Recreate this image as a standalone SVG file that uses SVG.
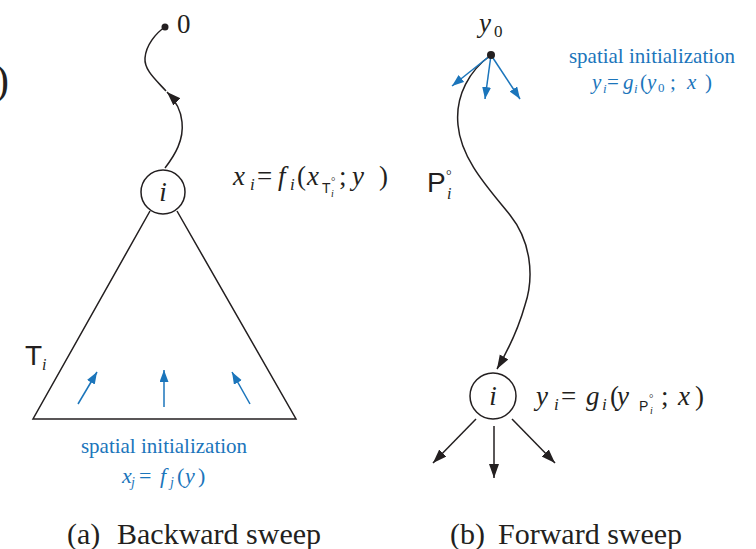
<svg xmlns="http://www.w3.org/2000/svg" width="756" height="549" viewBox="0 0 756 549">
<defs>
<marker id="ah" markerUnits="userSpaceOnUse" markerWidth="15" markerHeight="11" refX="14" refY="5" orient="auto"><path d="M0,0 L14,5 L0,10 z" fill="#231f20"/></marker>
<marker id="ahb" markerUnits="userSpaceOnUse" markerWidth="13" markerHeight="10" refX="12" refY="4.5" orient="auto"><path d="M0,0 L12,4.5 L0,9 z" fill="#1b75bb"/></marker>
<style>
.k{stroke:#231f20;stroke-width:1.5;fill:none}
.b{stroke:#1b75bb;stroke-width:1.5;fill:none}
.it{font-style:italic}
.sf{font-family:Liberation Serif, DejaVu Serif, serif}
.ss{font-family:Liberation Sans, DejaVu Sans, sans-serif}
</style>
</defs>
<rect width="756" height="549" fill="#fff"/>
<text class="sf" fill="#231f20" x="-5" y="94" font-size="42">)</text>

<g id="connectors">
<path class="k" d="M165,168 C175,155 184,140 182,122 C181,110 175,100 167,92" marker-end="url(#ah)"/>
<path class="k" d="M166,91 C156,80 144,70 145,58 C146,45 156,33 165,27"/>
<path class="k" d="M491,55 C470,70 455,95 458,125 C461,160 490,190 510,215 C530,240 535,275 525,305 C518,330 507,352 497,369" marker-end="url(#ah)"/>
<line class="k" x1="476" y1="419" x2="433" y2="463" marker-end="url(#ah)"/>
<line class="k" x1="494" y1="426" x2="494" y2="478" marker-end="url(#ah)"/>
<line class="k" x1="512" y1="419" x2="555" y2="463" marker-end="url(#ah)"/>
<line class="b" x1="78" y1="404" x2="97" y2="372" marker-end="url(#ahb)"/>
<line class="b" x1="164" y1="407" x2="164" y2="370" marker-end="url(#ahb)"/>
<line class="b" x1="250" y1="404" x2="232" y2="372" marker-end="url(#ahb)"/>
<line class="b" x1="491" y1="55" x2="452" y2="86" marker-end="url(#ahb)"/>
<line class="b" x1="491" y1="55" x2="485" y2="99" marker-end="url(#ahb)"/>
<line class="b" x1="491" y1="55" x2="520" y2="99" marker-end="url(#ahb)"/>
</g>

<g id="root0" class="sf" fill="#231f20">
<circle cx="165" cy="27" r="3.5"/>
<text x="177" y="33" font-size="27">0</text>
</g>

<g id="nodeLeft" class="sf" fill="#231f20">
<circle class="k" cx="163" cy="192" r="22"/>
<text class="it" x="163" y="201" font-size="27" text-anchor="middle">i</text>
</g>

<g id="subtree" fill="#231f20">
<polyline class="k" points="150,211 33,419 296,419 177,211"/>
<text class="ss" x="25" y="365" font-size="28">T</text>
<text class="sf it" x="42" y="370" font-size="16">i</text>
</g>

<g id="formulaLeft" class="sf" fill="#231f20">
<text class="it" x="233" y="185" font-size="27">x</text>
<text class="it" x="250" y="190" font-size="17">i</text>
<text x="257" y="185" font-size="27">=</text>
<text class="it" x="278" y="185" font-size="27">f</text>
<text class="it" x="290" y="190" font-size="17">i</text>
<text x="297" y="185" font-size="27">(</text>
<text class="it" x="307" y="185" font-size="27">x</text>
<text class="ss" x="322" y="193" font-size="14">T</text>
<text x="331" y="185" font-size="11">°</text>
<text class="it" x="331" y="197" font-size="10">i</text>
<text x="339" y="185" font-size="27">;</text>
<text class="it" x="352" y="185" font-size="27">y</text>
<text x="379" y="185" font-size="27">)</text>
</g>

<g id="initLeft" class="sf" fill="#1b75bb">
<text x="164" y="453" font-size="21" text-anchor="middle">spatial initialization</text>
<text class="it" x="122" y="483" font-size="22">x</text>
<text class="it" x="131" y="487" font-size="14">j</text>
<text x="139" y="483" font-size="22">=</text>
<text class="it" x="160" y="483" font-size="22">f</text>
<text class="it" x="170" y="487" font-size="14">j</text>
<text x="177" y="483" font-size="22">(</text>
<text class="it" x="185" y="483" font-size="22">y</text>
<text x="198" y="483" font-size="22">)</text>
</g>

<g id="rootY0" class="sf" fill="#231f20">
<circle cx="491" cy="55" r="4"/>
<text class="it" x="479" y="32" font-size="27">y</text>
<text x="494" y="37" font-size="17">0</text>
</g>

<g id="initRight" class="sf" fill="#1b75bb">
<text x="652" y="63" font-size="21" text-anchor="middle">spatial initialization</text>
<text class="it" x="592" y="89" font-size="21">y</text>
<text class="it" x="603" y="93" font-size="13">i</text>
<text x="607" y="89" font-size="21">=</text>
<text class="it" x="623" y="89" font-size="21">g</text>
<text class="it" x="634" y="93" font-size="13">i</text>
<text x="640" y="89" font-size="21">(</text>
<text class="it" x="647" y="89" font-size="21">y</text>
<text x="658" y="92" font-size="13">0</text>
<text x="670" y="89" font-size="21">;</text>
<text class="it" x="687" y="89" font-size="21">x</text>
<text x="705" y="89" font-size="21">)</text>
</g>

<g id="pathLabel" fill="#231f20">
<text class="ss" x="427" y="192" font-size="28">P</text>
<text class="sf" x="446" y="180" font-size="14">°</text>
<text class="sf it" x="447" y="199" font-size="16">i</text>
</g>

<g id="nodeRight" class="sf" fill="#231f20">
<circle class="k" cx="493" cy="396" r="23"/>
<text class="it" x="493" y="405" font-size="27" text-anchor="middle">i</text>
</g>

<g id="formulaRight" class="sf" fill="#231f20">
<text class="it" x="536" y="405" font-size="27">y</text>
<text class="it" x="554" y="410" font-size="17">i</text>
<text x="561" y="405" font-size="27">=</text>
<text class="it" x="586" y="405" font-size="27">g</text>
<text class="it" x="602" y="410" font-size="17">i</text>
<text x="610" y="405" font-size="27">(</text>
<text class="it" x="617" y="405" font-size="27">y</text>
<text class="ss" x="639" y="411" font-size="14">P</text>
<text x="649" y="402" font-size="11">°</text>
<text class="it" x="650" y="414" font-size="10">i</text>
<text x="661" y="405" font-size="27">;</text>
<text class="it" x="678" y="405" font-size="27">x</text>
<text x="695" y="405" font-size="27">)</text>
</g>

<g id="captions" class="sf" fill="#231f20">
<text x="67" y="544" font-size="30">(a)</text>
<text x="117" y="544" font-size="30">Backward sweep</text>
<text x="450" y="544" font-size="30">(b)</text>
<text x="498" y="544" font-size="30">Forward sweep</text>
</g>
</svg>
